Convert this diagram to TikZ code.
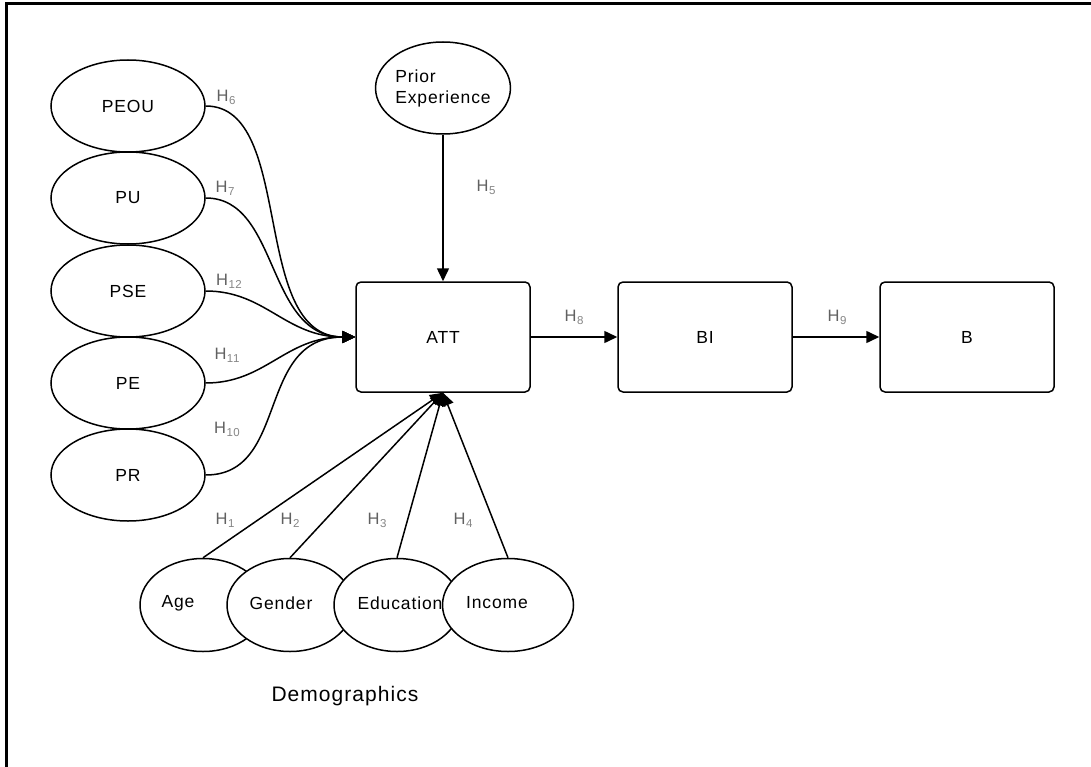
\documentclass[tikz,border=0pt]{standalone}
\usepackage{fontspec}
\setmainfont{Liberation Sans}[LetterSpace=5]
\usetikzlibrary{shapes.geometric,arrows.meta}

% hypothesis label: grey H with a lighter, smaller index
\newcommand\hyplabel[1]{H\kern0.5pt\raisebox{-0.35ex}{\color{black!48}\fontsize{11.5}{11.5}\selectfont #1}}

\begin{document}
\begin{tikzpicture}[x=1pt,y=-1pt,
  lw/.style={line width=1.5pt},
  txt/.style={font=\fontsize{17.5}{21}\selectfont},
  oval/.style={ellipse,draw,lw,fill=white,inner sep=0pt,
    minimum width=154pt,minimum height=92pt,txt},
  demo/.style={ellipse,draw,lw,fill=white,inner sep=0pt,
    minimum width=126pt,minimum height=93pt},
  demotext/.style={txt,inner sep=0pt},
  stage/.style={draw,lw,rounded corners=5pt,minimum width=174pt,
    minimum height=110pt,txt},
  link/.style={lw,-{Triangle[length=13pt,width=12pt]}},
  hyp/.style={text=black!62,font=\fontsize{16.5}{19}\selectfont,inner sep=0pt}
]
\useasboundingbox (0,0) rectangle (1091,767);

% outer frame (top and left edges)
\draw[line width=3pt] (6.5,767) -- (6.5,4) -- (1091,4);

% perception constructs
\node[oval] (peou) at (128,106) {PEOU};
\node[oval] (pu)   at (128,198) {PU};
\node[oval] (pse)  at (128,291) {PSE};
\node[oval] (pe)   at (128,383) {PE};
\node[oval] (pr)   at (128,475) {PR};

% prior experience
\node[oval,minimum width=131pt,align=left] (prior) at (443,88) {Prior\\Experience};

% attitude -> intention -> behaviour
\node[stage] (att) at (443,337) {ATT};
\node[stage] (bi)  at (705,337) {BI};
\node[stage] (b)   at (967,337) {B};

% demographics
\node[demo] (age)  at (203,605) {};
\node[demo] (gen)  at (290,605) {};
\node[demo] (edu)  at (397,605) {};
\node[demo,minimum width=131pt] (inc) at (508,605) {};
\node[demotext] (agetext) at (178,603) {Age};
\node[demotext] (gentext) at (281,603) {Gender};
\node[demotext] (edutext) at (400,603) {Education};
\node[demotext] (inctext) at (497,603) {Income};
\node[font=\fontsize{21}{24}\selectfont] (demolabel) at (345,696) {Demographics};

% curved paths into ATT
\draw[link] (peou.east) .. controls +(90,0) and +(-106,0) .. (att.west);
\draw[link] (pu.east)   .. controls +(74,0) and +(-90,0) .. (att.west);
\draw[link] (pse.east)  .. controls +(60,0) and +(-70,0) .. (att.west);
\draw[link] (pe.east)   .. controls +(60,0) and +(-70,0) .. (att.west);
\draw[link] (pr.east)   .. controls +(84,0) and +(-100,0) .. (att.west);

% straight paths
\draw[link] (prior.south) -- (att.north);
\draw[link] (att.east) -- (bi.west);
\draw[link] (bi.east) -- (b.west);
\draw[link] (age.north) -- (att.south);
\draw[link] (gen.north) -- (att.south);
\draw[link] (edu.north) -- (att.south);
\draw[link] (inc.north) -- (att.south);

% hypothesis labels
\node[hyp] (h6)  at (226,97)  {\hyplabel{6}};
\node[hyp] (h7)  at (225,188) {\hyplabel{7}};
\node[hyp] (h12) at (229,281) {\hyplabel{12}};
\node[hyp] (h11) at (227,355) {\hyplabel{11}};
\node[hyp] (h10) at (227,429) {\hyplabel{10}};
\node[hyp] (h5)  at (486,187) {\hyplabel{5}};
\node[hyp] (h8)  at (574,317) {\hyplabel{8}};
\node[hyp] (h9)  at (837,317) {\hyplabel{9}};
\node[hyp] (h1)  at (225,520) {\hyplabel{1}};
\node[hyp] (h2)  at (290,520) {\hyplabel{2}};
\node[hyp] (h3)  at (377,520) {\hyplabel{3}};
\node[hyp] (h4)  at (463,520) {\hyplabel{4}};
\end{tikzpicture}
\end{document}
